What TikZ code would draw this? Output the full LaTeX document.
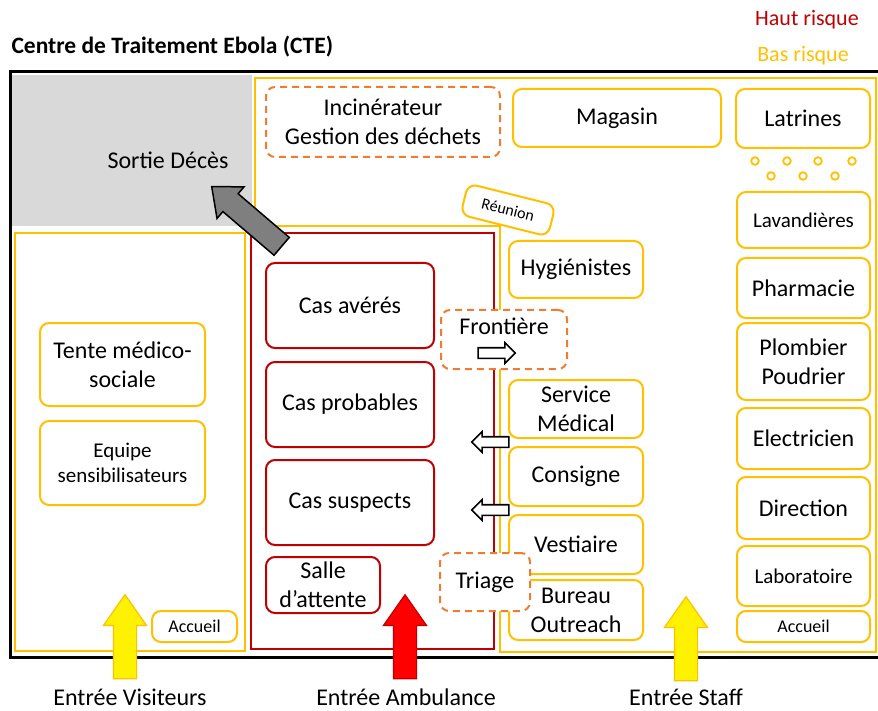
\documentclass[tikz,border=0pt]{standalone}
\usepackage{fontspec}
\setmainfont{Carlito}
\usetikzlibrary{shapes.arrows}
\definecolor{lowrisk}{HTML}{FFC000}
\definecolor{highrisk}{HTML}{C00000}
\definecolor{frontier}{HTML}{ED7D31}
\definecolor{deathgray}{HTML}{D9D9D9}
\definecolor{arrowgray}{HTML}{7F7F7F}

\begin{document}
\begin{tikzpicture}[x=1pt, y=-1pt,
    room/.style={rectangle, rounded corners=9pt, draw=lowrisk, fill=white, line width=2pt,
                 align=center, inner sep=0pt, font=\fontsize{24}{29}\selectfont},
    redroom/.style={room, draw=highrisk},
    zone/.style={room, draw=frontier, dash pattern=on 7pt off 5pt},
    smalltext/.style={font=\fontsize{21}{25}\selectfont},
    tinytext/.style={font=\fontsize{18}{21}\selectfont},
    entry/.style={single arrow, draw, line width=1.2pt, inner sep=11pt,
                  single arrow head extend=10pt, single arrow tip angle=70,
                  minimum height=84pt, shape border rotate=90},
    passage/.style={single arrow, draw=black, fill=white, line width=1.6pt, inner sep=4.5pt,
                    single arrow head extend=5pt, single arrow tip angle=90, minimum height=37pt},
    label/.style={font=\fontsize{24}{29}\selectfont},
]
    \useasboundingbox (0,0) rectangle (878,711);

    % titles
    \node[anchor=west, font=\fontsize{23.5}{28}\selectfont\bfseries] (title) at (8,47) {Centre de Traitement Ebola (CTE)};
    \node[font=\fontsize{22}{26}\selectfont, text=highrisk] (haut) at (807,20) {Haut risque};
    \node[font=\fontsize{22}{26}\selectfont, text=lowrisk] (bas) at (803,56) {Bas risque};

    % zones
    \fill[deathgray] (12,75) rectangle (252,226);
    \node[label] (sortie) at (168,160) {Sortie Décès};
    \draw[lowrisk, line width=2pt] (255,78) -- (876,78) -- (876,652) -- (500,652)
        -- (500,226) -- (255,226) -- cycle;
    \draw[lowrisk, line width=2pt] (15,233) rectangle (245,651);
    \draw[highrisk, line width=2pt] (251,233) rectangle (494,649);
    \draw[line width=3pt] (10,72) rectangle (884,657);

    % bas risque, haut
    \node[zone, minimum width=234pt, minimum height=70pt] (incin) at (383,122) {Incinérateur\\Gestion des déchets};
    \node[room, minimum width=208pt, minimum height=58pt] (magasin) at (617,118) {Magasin};
    \node[room, minimum width=134pt, minimum height=59pt] (latrines) at (803,118.5) {Latrines};
    \foreach \x in {755,787,818,852} \draw[lowrisk, line width=1.8pt] (\x,161) circle (3.8pt);
    \foreach \x in {771,803,835} \draw[lowrisk, line width=1.8pt] (\x,176) circle (3.8pt);
    \node[room, font=\fontsize{16}{19}\selectfont, minimum width=90pt, minimum height=32pt, rotate=-14] (reunion) at (508,210) {Réunion};

    % colonne droite
    \node[room, smalltext, minimum width=133pt, minimum height=56pt] (lavand) at (803.5,220) {Lavandières};
    \node[room, minimum width=133pt, minimum height=60pt] (pharma) at (803.5,288) {Pharmacie};
    \node[room, minimum width=133pt, minimum height=77pt] (plomb) at (803.5,361.5) {Plombier\\Poudrier};
    \node[room, minimum width=133pt, minimum height=61pt] (elec) at (803.5,438.5) {Electricien};
    \node[room, minimum width=133pt, minimum height=62pt] (direction) at (803.5,508) {Direction};
    \node[room, smalltext, minimum width=133pt, minimum height=60pt] (labo) at (803.5,576) {Laboratoire};
    \node[room, tinytext, minimum width=133pt, minimum height=31pt] (accstaff) at (803.5,626.5) {Accueil};

    % colonne milieu
    \node[room, minimum width=134pt, minimum height=57pt] (hyg) at (576,269.5) {Hygiénistes};
    \node[room, minimum width=134pt, minimum height=58pt] (service) at (576,409) {Service\\Médical};
    \node[room, minimum width=134pt, minimum height=59pt] (consigne) at (576,476.5) {Consigne};
    \node[room, minimum width=134pt, minimum height=59pt] (vestiaire) at (576,544.5) {Vestiaire};
    \node[room, minimum width=134pt, minimum height=60pt] (bureau) at (576,610) {Bureau\\Outreach};

    % haut risque
    \node[redroom, minimum width=168pt, minimum height=85pt] (averes) at (350,305.5) {Cas avérés};
    \node[redroom, minimum width=168pt, minimum height=85pt] (probables) at (350,404.5) {Cas probables};
    \node[redroom, minimum width=168pt, minimum height=85pt] (suspects) at (350,502.5) {Cas suspects};
    \node[redroom, minimum width=114pt, minimum height=56pt] (salle) at (323,585) {Salle\\d’attente};

    % frontieres
    \node[zone, minimum width=126pt, minimum height=59pt] (frontiere) at (504,339.5) {};
    \node[label] (frontlabel) at (504,326) {Frontière};
    \node[passage] (sortiefront) at (494,353) {};
    \node[passage, shape border rotate=180] (entreeserv) at (493,442) {};
    \node[passage, shape border rotate=180] (entreecons) at (493,510) {};
    \node[zone, minimum width=90pt, minimum height=58pt] (triage) at (485,582) {Triage};

    % visiteurs
    \node[room, minimum width=165pt, minimum height=83pt] (tente) at (122.5,364.5) {Tente médico-\\sociale};
    \node[room, smalltext, minimum width=165pt, minimum height=84pt] (equipe) at (122.5,463) {Equipe\\sensibilisateurs};
    \node[room, tinytext, minimum width=85pt, minimum height=31pt] (accvis) at (194.5,626.5) {Accueil};

    % fleches
    \node[single arrow, draw=black, fill=arrowgray, line width=1.5pt, inner sep=11pt,
          single arrow head extend=9pt, single arrow tip angle=80, minimum height=92pt,
          rotate=139.5] (deces) at (252,221) {};
    \node[entry, draw=lowrisk, fill=yellow] (flvis) at (125,645) {};
    \node[entry, draw=highrisk, fill=red] (flamb) at (405,645) {};
    \node[entry, draw=lowrisk, fill=yellow] (flstaff) at (686,647) {};

    \node[label] (entvis) at (130,697) {Entrée Visiteurs};
    \node[label] (entamb) at (406,697) {Entrée Ambulance};
    \node[label] (entstaff) at (686,697) {Entrée Staff};
\end{tikzpicture}
\end{document}
